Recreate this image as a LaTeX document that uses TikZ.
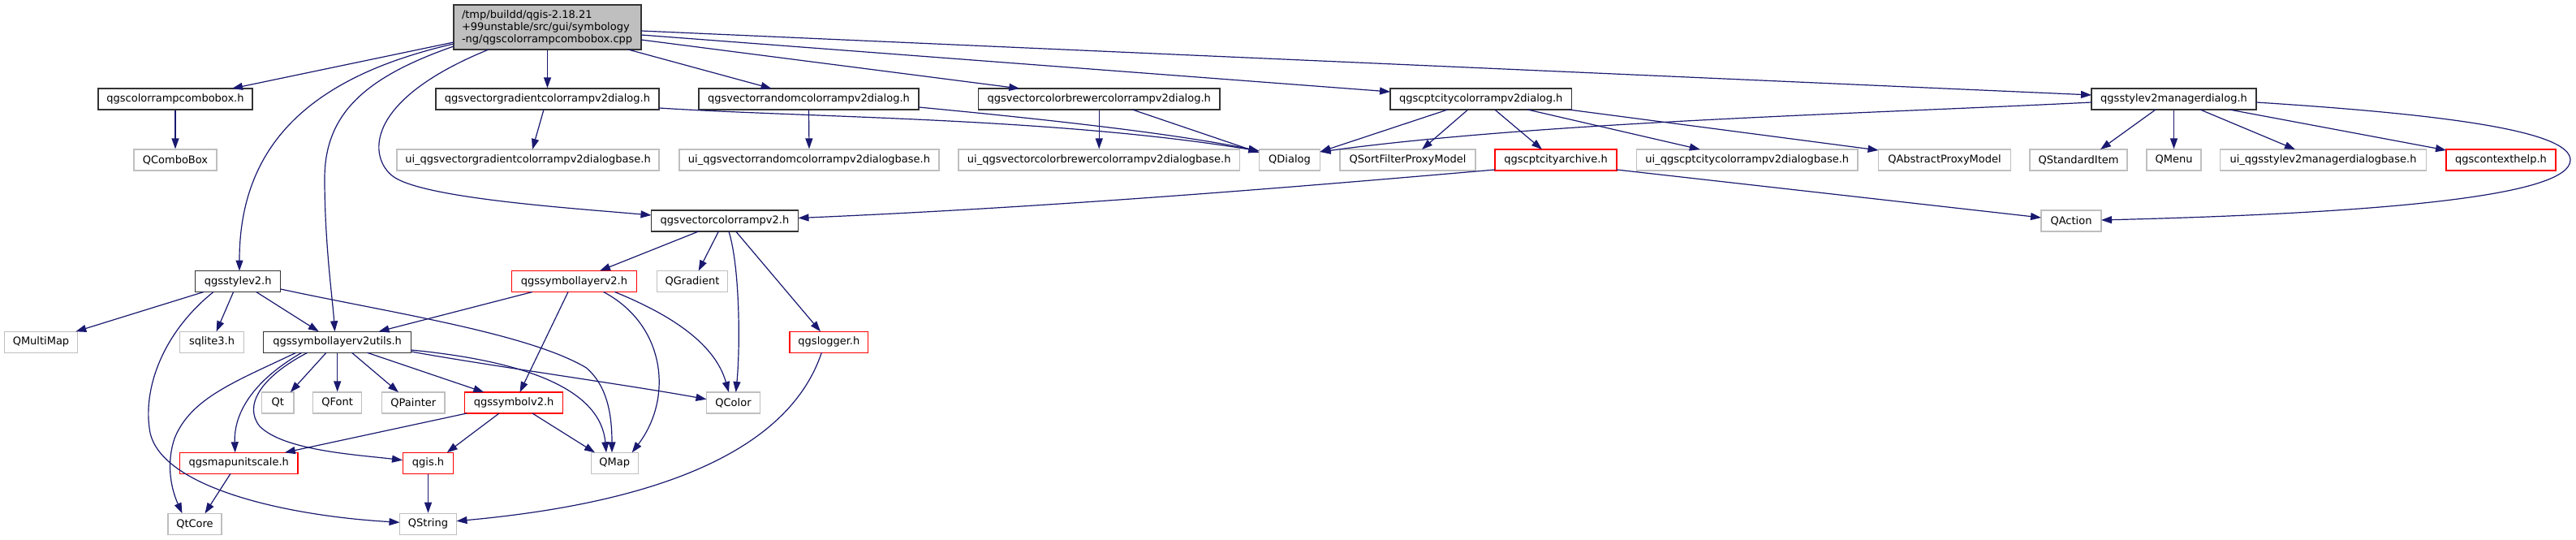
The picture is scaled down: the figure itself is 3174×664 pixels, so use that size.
\documentclass[tikz,border=0pt]{standalone}
\usepackage{fontspec}
\setmainfont{DejaVu Sans}
\usetikzlibrary{arrows.meta}
\definecolor{edgeblue}{HTML}{191970}
\definecolor{boxgrey}{HTML}{BFBFBF}
\definecolor{boxred}{HTML}{FF0000}
\definecolor{rootfill}{HTML}{BFBFBF}
\tikzset{
  box/.style={rectangle, minimum height=26pt, inner sep=0pt, line width=1.2pt, fill=white,
    font=\fontsize{13}{15}\selectfont},
  blk/.style={box, draw=black!80},
  gry/.style={box, draw=boxgrey},
  rdb/.style={box, draw=boxred},
  e/.style={draw=edgeblue, line width=1.2pt, -{Triangle[length=13pt,width=9pt]}, fill=none},
}
\begin{document}
\begin{tikzpicture}[x=1pt,y=-1pt]
\useasboundingbox (0,0) rectangle (3174,664);
\fill[white] (0,0) rectangle (3174,664);
% root
\node[box, draw=black!80, fill=rootfill, minimum width=231pt, minimum height=55pt, text width=211pt, align=left, inner xsep=10pt] (root) at (674.5,33.5)
  {/tmp/buildd/qgis-2.18.21\\+99unstable/src/gui/symbology\\-ng/qgscolorrampcombobox.cpp};
% row 2
\node[blk, minimum width=190pt] (cb) at (216,122) {qgscolorrampcombobox.h};
\node[blk, minimum width=275pt] (gd) at (674.5,122) {qgsvectorgradientcolorrampv2dialog.h};
\node[blk, minimum width=271pt] (rdlg) at (996.5,122) {qgsvectorrandomcolorrampv2dialog.h};
\node[blk, minimum width=297.5pt] (bd) at (1354.25,122) {qgsvectorcolorbrewercolorrampv2dialog.h};
\node[blk, minimum width=223.5pt] (cd) at (1824.75,122) {qgscptcitycolorrampv2dialog.h};
\node[blk, minimum width=203pt] (md) at (2678.5,122) {qgsstylev2managerdialog.h};
% row 3
\node[gry, minimum width=102pt] (combo) at (216,197) {QComboBox};
\node[gry, minimum width=323pt] (uigd) at (650.5,197) {ui\_qgsvectorgradientcolorrampv2dialogbase.h};
\node[gry, minimum width=320pt] (uird) at (997,197) {ui\_qgsvectorrandomcolorrampv2dialogbase.h};
\node[gry, minimum width=346.5pt] (uibd) at (1354.25,197) {ui\_qgsvectorcolorbrewercolorrampv2dialogbase.h};
\node[gry, minimum width=75.5pt] (qdialog) at (1589,197) {QDialog};
\node[gry, minimum width=167pt] (qsfpm) at (1734.5,197) {QSortFilterProxyModel};
\node[rdb, minimum width=150pt] (arch) at (1917,197) {qgscptcityarchive.h};
\node[gry, minimum width=272.5pt] (uicd) at (2152.75,197) {ui\_qgscptcitycolorrampv2dialogbase.h};
\node[gry, minimum width=163pt] (qapm) at (2396,197) {QAbstractProxyModel};
\node[gry, minimum width=120pt] (qsi) at (2561,197) {QStandardItem};
\node[gry, minimum width=67pt] (qmenu) at (2678.5,197) {QMenu};
\node[gry, minimum width=254pt] (uimd) at (2862.5,197) {ui\_qgsstylev2managerdialogbase.h};
\node[rdb, minimum width=135pt] (ctx) at (3081.5,197) {qgscontexthelp.h};
% row 4
\node[blk, minimum width=181pt] (vcr) at (893,272) {qgsvectorcolorrampv2.h};
\node[gry, minimum width=74pt] (qaction) at (2552,272) {QAction};
% row 5
\node[blk, minimum width=105.2pt] (st) at (293.2,346.5) {qgsstylev2.h};
\node[rdb, minimum width=153.6pt] (sl) at (707.5,346.5) {qgssymbollayerv2.h};
\node[gry, minimum width=87pt] (qgrad) at (853,346.5) {QGradient};
% row 6
\node[gry, minimum width=89.8pt] (qmm) at (50.5,421.3) {QMultiMap};
\node[gry, minimum width=78.5pt] (sqlite) at (261,421.3) {sqlite3.h};
\node[blk, minimum width=181.7pt] (su) at (415.7,421.3) {qgssymbollayerv2utils.h};
\node[rdb, minimum width=96.8pt] (lg) at (1021.4,421.3) {qgslogger.h};
% row 7
\node[gry, minimum width=39.3pt] (qt) at (342.4,496) {Qt};
\node[gry, minimum width=59.7pt] (qfont) at (415.7,496) {QFont};
\node[gry, minimum width=77.2pt] (qpainter) at (509.3,496) {QPainter};
\node[rdb, minimum width=121.4pt] (sv) at (633.1,496) {qgssymbolv2.h};
\node[gry, minimum width=66pt] (qcolor) at (903.5,496) {QColor};
% row 8
\node[rdb, minimum width=145.2pt] (mu) at (294.3,570.3) {qgsmapunitscale.h};
\node[rdb, minimum width=61.7pt] (qgis) at (527.5,570.3) {qgis.h};
\node[gry, minimum width=58.2pt] (qmap) at (757.3,570.3) {QMap};
% row 9
\node[gry, minimum width=66pt] (qtcore) at (240,645.3) {QtCore};
\node[gry, minimum width=70pt] (qstring) at (527.5,645.3) {QString};

% edges from root
\draw[e] ([shift={(-115.5,18.5)}]root.center) -- ([shift={(70,-13)}]cb.center);
\draw[e] ([shift={(-115.5,20.5)}]root.center) .. controls (380,95) and (295,180) .. ([shift={(1.8,-13)}]st.center);
\draw[e] ([shift={(-115.5,23.5)}]root.center) .. controls (450,95) and (400,140) .. (400,220) .. controls (400,300) and (410,370) .. ([shift={(-3.2,-13)}]su.center);
\draw[e] ([shift={(-72.5,27.5)}]root.center) .. controls (445,125) and (455,195) .. (484,217) .. controls (520,244) and (700,256) .. ([shift={(-90.5,-7)}]vcr.center);
\draw[e] (root.south) -- (gd.north);
\draw[e] ([shift={(99.5,27.5)}]root.center) -- ([shift={(-45.9,-13)}]rdlg.center);
\draw[e] ([shift={(115.5,15.5)}]root.center) -- ([shift={(-98,-13)}]bd.center);
\draw[e] ([shift={(115.5,9.5)}]root.center) -- ([shift={(-111.75,-9)}]cd.center);
\draw[e] ([shift={(115.5,4.5)}]root.center) -- ([shift={(-101.5,-5)}]md.center);
% row 2 edges
\draw[e] (cb.south) -- (combo.north);
\draw[e] ([shift={(-4.5,13)}]gd.center) -- ([shift={(5.5,-13)}]uigd.center);
\draw[e] ([shift={(137.5,11)}]gd.center) .. controls (1000,145) and (1300,145) .. ([shift={(-37.5,-11)}]qdialog.center);
\draw[e] (rdlg.south) -- (uird.north);
\draw[e] ([shift={(135.5,10)}]rdlg.center) .. controls (1300,148) and (1450,165) .. ([shift={(-37.5,-11)}]qdialog.center);
\draw[e] (bd.south) -- (uibd.north);
\draw[e] ([shift={(41,13)}]bd.center) -- ([shift={(-37.5,-9)}]qdialog.center);
\draw[e] ([shift={(-41,13)}]cd.center) -- ([shift={(37.5,-10)}]qdialog.center);
\draw[e] ([shift={(-16,13)}]cd.center) -- ([shift={(17.5,-13)}]qsfpm.center);
\draw[e] ([shift={(17,13)}]cd.center) -- ([shift={(-17,-13)}]arch.center);
\draw[e] ([shift={(57.5,13)}]cd.center) -- ([shift={(-58,-13)}]uicd.center);
\draw[e] ([shift={(108,13)}]cd.center) -- ([shift={(-81.5,-12)}]qapm.center);
\draw[e] ([shift={(-101.5,4)}]md.center) .. controls (2300,140) and (1900,150) .. ([shift={(37.5,-10)}]qdialog.center);
\draw[e] ([shift={(-22.5,13)}]md.center) -- ([shift={(27,-13)}]qsi.center);
\draw[e] (md.south) -- (qmenu.north);
\draw[e] ([shift={(32.5,13)}]md.center) -- ([shift={(-34.5,-13)}]uimd.center);
\draw[e] ([shift={(68.5,13)}]md.center) -- ([shift={(-67.5,-12)}]ctx.center);
\draw[e] ([shift={(101.5,4)}]md.center) .. controls (3000,140) and (3167,160) .. (3167,197) .. controls (3167,240) and (2950,262) .. ([shift={(37,-1)}]qaction.center);
% row 3 edges
\draw[e] ([shift={(-75,12)}]arch.center) .. controls (1600,230) and (1300,255) .. ([shift={(90.5,-3.5)}]vcr.center);
\draw[e] ([shift={(75,12)}]arch.center) -- ([shift={(-37,-4)}]qaction.center);
% row 4 edges
\draw[e] ([shift={(-32.3,13)}]vcr.center) -- ([shift={(31.5,-13)}]sl.center);
\draw[e] ([shift={(-7.6,13)}]vcr.center) -- ([shift={(7.7,-13)}]qgrad.center);
\draw[e] ([shift={(5,13)}]vcr.center) .. controls (912,330) and (912,430) .. ([shift={(3.2,-13)}]qcolor.center);
\draw[e] ([shift={(13.7,13)}]vcr.center) -- ([shift={(-10.4,-13)}]lg.center);
% row 5 edges
\draw[e] ([shift={(-42.2,13)}]st.center) -- ([shift={(42.8,-13)}]qmm.center);
\draw[e] ([shift={(-5.6,13)}]st.center) -- ([shift={(5.6,-13)}]sqlite.center);
\draw[e] ([shift={(22.5,13)}]st.center) -- ([shift={(-22.9,-13)}]su.center);
\draw[e] ([shift={(52.6,9.5)}]st.center) .. controls (480,385) and (650,410) .. (722.5,453) .. controls (748,475) and (754,510) .. ([shift={(-3.3,-13)}]qmap.center);
\draw[e] ([shift={(-30.2,13)}]st.center) .. controls (200,410) and (175,480) .. (185,533) .. controls (200,600) and (350,635) .. ([shift={(-35,-2)}]qstring.center);
\draw[e] ([shift={(-51.5,13)}]sl.center) -- ([shift={(50.8,-13)}]su.center);
\draw[e] ([shift={(-7.5,13)}]sl.center) -- ([shift={(7.4,-13)}]sv.center);
\draw[e] ([shift={(36.1,13)}]sl.center) .. controls (820,400) and (830,490) .. ([shift={(21.4,-13)}]qmap.center);
\draw[e] ([shift={(49.9,13)}]sl.center) .. controls (820,385) and (880,420) .. ([shift={(-5.5,-13)}]qcolor.center);
% row 6 edges
\draw[e] ([shift={(-13.7,13)}]su.center) -- ([shift={(15.4,-13)}]qt.center);
\draw[e] (su.south) -- (qfont.north);
\draw[e] ([shift={(17.8,13)}]su.center) -- ([shift={(-18.3,-13)}]qpainter.center);
\draw[e] ([shift={(36.8,13)}]su.center) -- ([shift={(-36.8,-13)}]sv.center);
\draw[e] ([shift={(90.85,11.7)}]su.center) .. controls (600,450) and (780,475) .. ([shift={(-33,-4.3)}]qcolor.center);
\draw[e] ([shift={(90.85,9.7)}]su.center) .. controls (650,445) and (740,480) .. ([shift={(-10.3,-13)}]qmap.center);
\draw[e] ([shift={(-43.9,13)}]su.center) .. controls (310,470) and (288,510) .. ([shift={(-4.6,-13)}]mu.center);
\draw[e] ([shift={(-36.9,13)}]su.center) .. controls (320,465) and (300,500) .. (320,525) .. controls (350,555) and (440,560) .. ([shift={(-31.5,-3.6)}]qgis.center);
\draw[e] ([shift={(-50.9,13)}]su.center) .. controls (290,470) and (235,490) .. (215,540) .. controls (205,570) and (210,600) .. ([shift={(-15.5,-13)}]qtcore.center);
\draw[e] ([shift={(-9.1,13)}]lg.center) .. controls (970,560) and (800,620) .. ([shift={(35,-3.6)}]qstring.center);
% row 7 edges
\draw[e] ([shift={(-58.1,13)}]sv.center) -- ([shift={(56.5,-13)}]mu.center);
\draw[e] ([shift={(-18.1,13)}]sv.center) -- ([shift={(23.2,-13)}]qgis.center);
\draw[e] ([shift={(22.9,13)}]sv.center) -- ([shift={(-24.3,-13)}]qmap.center);
% row 8 edges
\draw[e] ([shift={(-10.3,13)}]mu.center) -- ([shift={(12.5,-13)}]qtcore.center);
\draw[e] (qgis.south) -- (qstring.north);
\end{tikzpicture}
\end{document}
